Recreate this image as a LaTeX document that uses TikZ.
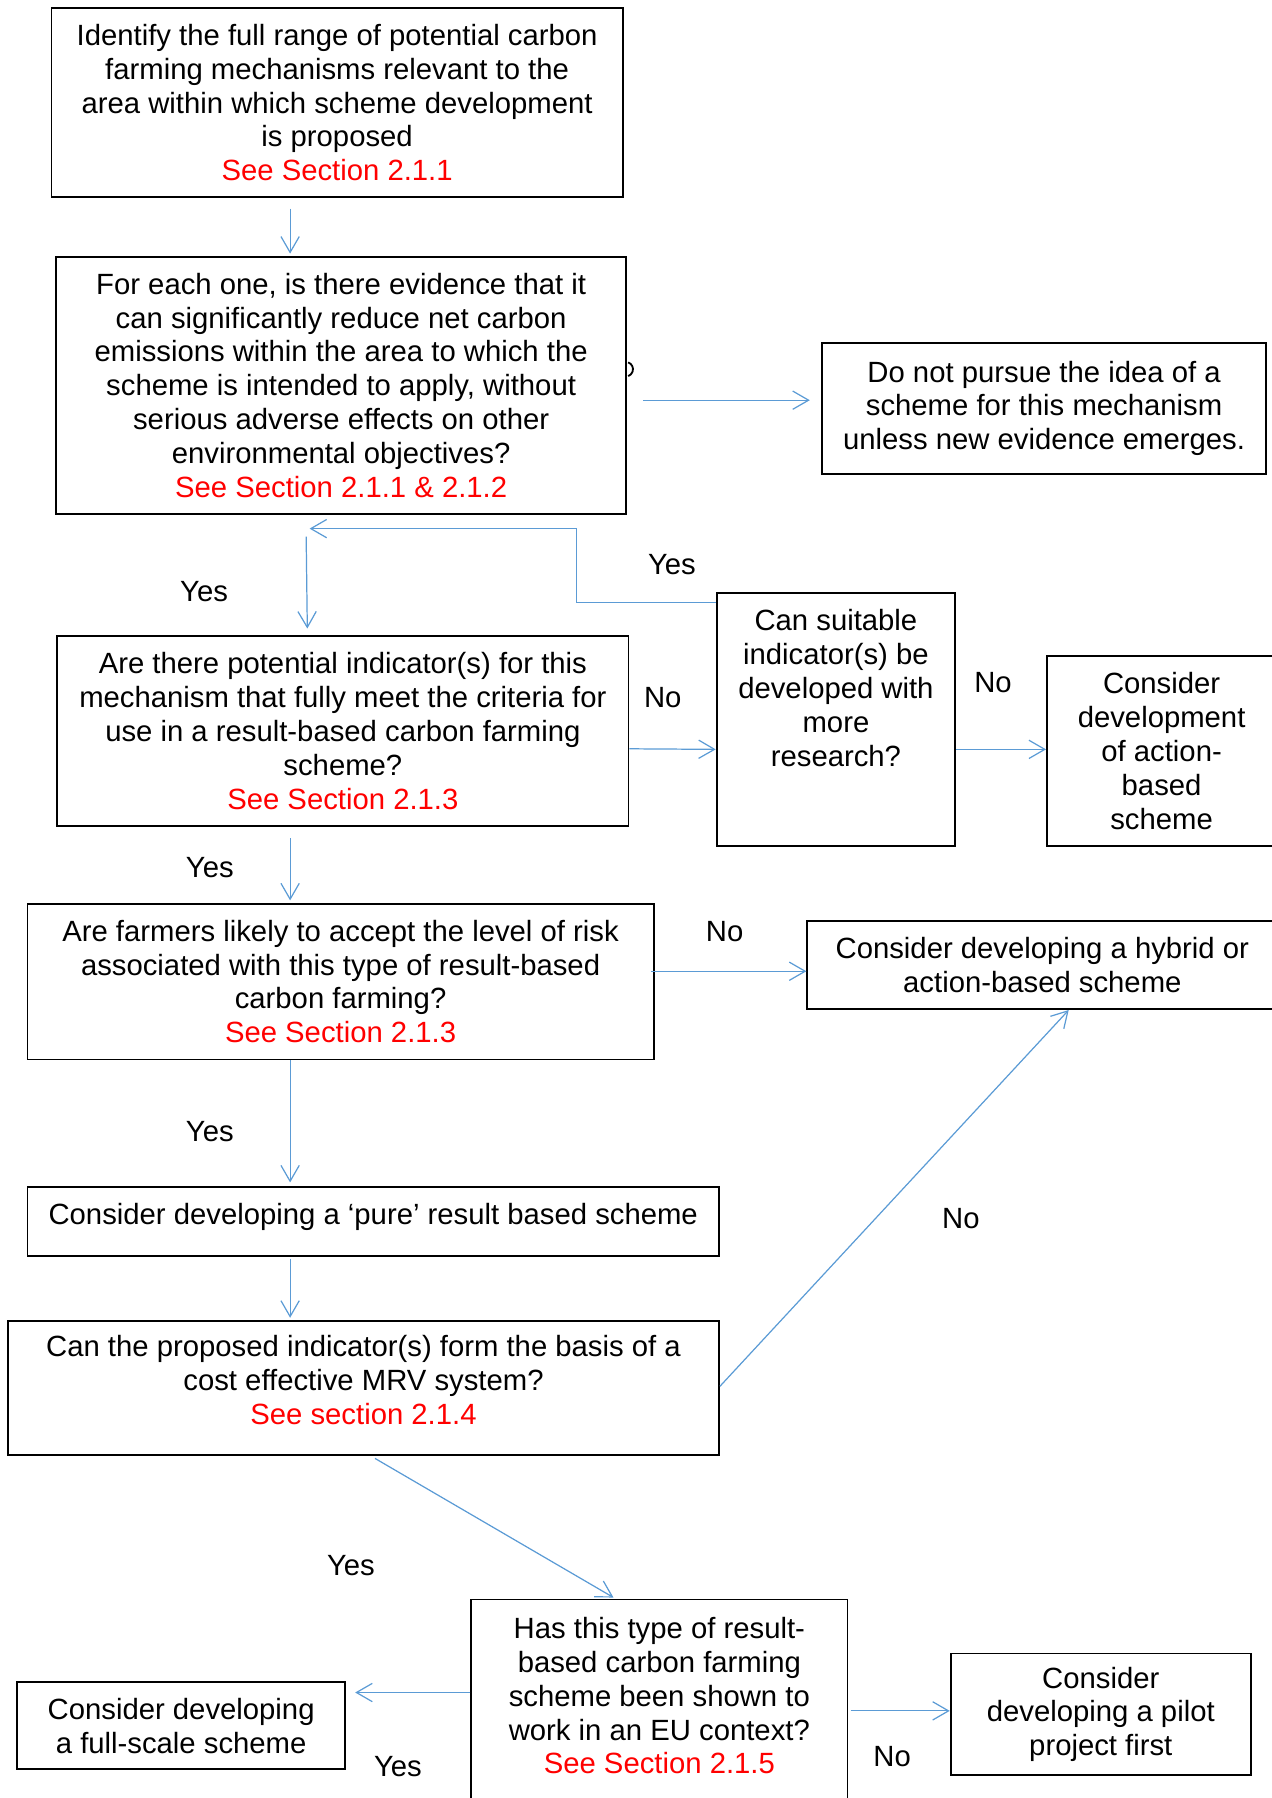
\documentclass[tikz,border=0pt]{standalone}
\usepackage{fontspec}
\setmainfont{Liberation Sans}
\usetikzlibrary{calc,arrows.meta}
\definecolor{flowblue}{RGB}{91,155,213}
\definecolor{seered}{RGB}{255,0,0}
\tikzset{
	box/.style={draw=black, line width=0.75pt, align=center, inner sep=2pt},
	flow/.style={draw=flowblue, line width=0.5pt, -{Straight Barb[length=6.5pt,width=7.5pt]}},
	answer/.style={inner sep=0pt}
}
\newcommand{\seesec}[1]{\textcolor{seered}{#1}}

\begin{document}
\begin{tikzpicture}[x=0.47pt, y=-0.47pt, font=\fontsize{12pt}{13.85pt}\selectfont]
			%%%%% START %%%%%
			\useasboundingbox (0,0) rectangle (1109,1568);
			
			\node[box, minimum width=234.1pt, minimum height=77.6pt] (range) at (294,89.5) {Identify the full range of potential carbon\\farming mechanisms relevant to the\\area within which scheme development\\is proposed\\\seesec{See Section 2.1.1}};
			
			\node[box, minimum width=233.6pt, minimum height=105.3pt] (evidence) at (297.5,336) {For each one, is there evidence that it\\can significantly reduce net carbon\\emissions within the area to which the\\scheme is intended to apply, without\\serious adverse effects on other\\environmental objectives?\\\seesec{See Section 2.1.1 \& 2.1.2}};
			\draw[line width=0.75pt] ($(evidence.east)+(1,-20)$) arc[start angle=70, end angle=-70, radius=3pt];
			
			\node[box, minimum width=181.9pt, minimum height=53.6pt] (stop) at (910.5,356) {Do not pursue the idea of a\\scheme for this mechanism\\unless new evidence emerges.};
			
			\node[box, minimum width=234.1pt, minimum height=77.6pt] (indic) at (299,637.5) {Are there potential indicator(s) for this\\mechanism that fully meet the criteria for\\use in a result-based carbon farming\\scheme?\\\seesec{See Section 2.1.3}};
			
			\node[box, minimum width=97.8pt, minimum height=103.9pt] (research) at (729,627.5) {\parbox[c][90pt][t]{92pt}{\centering Can suitable\\indicator(s) be\\developed with\\more\\research?}};
			
			\node[box, minimum width=94pt, minimum height=78pt] (action) at (1013,655) {Consider\\development\\of action-\\based\\scheme};
			
			\node[box, minimum width=256.6pt, minimum height=63.9pt] (risk) at (297,856) {Are farmers likely to accept the level of risk\\associated with this type of result-based\\carbon farming?\\\seesec{See Section 2.1.3}};
			
			\node[box, minimum width=192.7pt, minimum height=36.2pt] (hybrid) at (909,841.5) {Consider developing a hybrid or\\action-based scheme};
			
			\node[box, minimum width=283.4pt, minimum height=28.2pt] (pure) at (325.5,1065) {\raisebox{6pt}{Consider developing a ‘pure’ result based scheme}};
			
			\node[box, minimum width=291.4pt, minimum height=55pt] (mrv) at (317,1210.5) {\parbox[c][43pt][t]{285pt}{\centering Can the proposed indicator(s) form the basis of a\\cost effective MRV system?\\\seesec{See section 2.1.4}}};
			
			\node[box, minimum width=154.2pt, minimum height=91.7pt] (eu) at (575,1492.5) {\parbox[c][77pt][t]{150pt}{\centering Has this type of result-\\based carbon farming\\scheme been shown to\\work in an EU context?\\\seesec{See Section 2.1.5}}};
			
			\node[box, minimum width=134.4pt, minimum height=35.7pt] (full) at (158,1505) {Consider developing\\a full-scale scheme};
			
			\node[box, minimum width=123.1pt, minimum height=49.8pt] (pilot) at (960,1495) {Consider\\developing a pilot\\project first};
			
			% answers
			\node[answer] (yesloop) at (586,492) {Yes};
			\node[answer] (yesindic) at (178,516) {Yes};
			\node[answer] (noindic) at (578,608) {No};
			\node[answer] (noresearch) at (866,595) {No};
			\node[answer] (yesrisk) at (183,757) {Yes};
			\node[answer] (norisk) at (632,812) {No};
			\node[answer] (yespure) at (183,987) {Yes};
			\node[answer] (nomrv) at (838,1063) {No};
			\node[answer] (yesmrv) at (306,1365) {Yes};
			\node[answer] (yesfull) at (347,1541) {Yes};
			\node[answer] (nopilot) at (778,1532) {No};
			
			% connectors
			\coordinate (bend) at (503,461);
			\coordinate (back) at (270,461);
			
			\draw[flow] ($(range.south)+(-41,9)$) -- ($(evidence.north)+(-44.5,-2)$);
			\draw[flow] ($(evidence.east)+(14,13)$) -- ($(stop.west)+(-10,-7)$);
			\draw[flow] ($(research.north west)+(0,9)$) -| (bend) -- (back);
			\draw[flow] ($(back)+(-3,7)$) -- ($(indic.north)+(-31,-6)$);
			\draw[flow] ($(indic.east)+(0,15.5)$) -- ($(research.west)+(0,26)$);
			\draw[flow] ($(research.east)+(0,26)$) -- ($(action.west)+(0,-1.5)$);
			\draw[flow] ($(indic.south)+(-46,10)$) -- ($(risk.north)+(-44,-2)$);
			\draw[flow] ($(risk.east)+(-3,-9)$) -- ($(hybrid.west)+(0,5.5)$);
			\draw[flow] ($(risk.south)+(-44,0)$) -- ($(pure.north)+(-72.5,-3)$);
			\draw[flow] ($(pure.south)+(-72.5,2)$) -- ($(mrv.north)+(-64,-2)$);
			\draw[flow] ($(mrv.east)+(0,-1.5)$) -- ($(hybrid.south)+(23,0)$);
			\draw[flow] ($(mrv.south)+(10,2)$) -- ($(eu.north)+(-40,-1)$);
			\draw[flow] ($(eu.west)+(0,-16.5)$) -- ($(full.east)+(8,-29)$);
			\draw[flow] ($(eu.east)+(2,-0.5)$) -- ($(pilot.west)+(0,-3)$);
			
			%%%%% END %%%%%
\end{tikzpicture}
\end{document}
